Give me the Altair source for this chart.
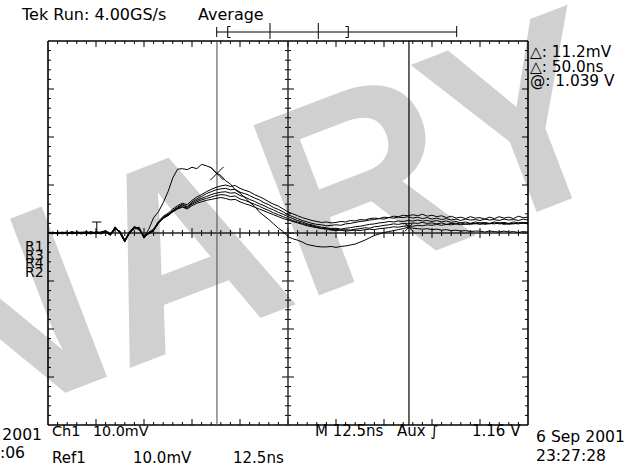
import altair as alt
import pandas as pd

SAMPLE_NS = 1.25          # sample spacing of the stored waveforms
NS_PER_DIV = 12.5
MV_PER_DIV = 10.0

trace_ch1 = [0.1, -0.2, 0.2, 0.0, -0.1, 0.2, -0.2, 0.1, 0.3, -0.1, 0.2, 0.0, 0.3, -0.4, 1.0, 0.2, -1.6, 0.2, 1.2, 0.8, -0.8,
             0.8, 3.2, 4.4, 6.3, 8.6, 11.5, 13.3, 13.4, 13.2, 13.7, 13.4, 14.3, 14.0, 13.6, 12.5, 12.0, 10.9, 10.2, 9.0, 8.3,
             7.4, 6.4, 5.6, 4.4, 3.6, 2.8, 1.9, 1.0, 0.3, -0.8, -1.2, -1.5, -1.9, -2.4, -2.6, -2.8, -2.9, -2.9, -2.8, -3.0,
             -2.8, -2.7, -2.5, -2.3, -1.9, -1.5, -1.0, -0.5, -0.2, 0.1, 0.3, 0.5, 0.7, 0.9, 1.2, 1.0, 0.9, 0.8, 0.9, 0.7,
             0.8, 0.6, 0.7, 0.5, 0.6, 0.4, 0.5, 0.3, 0.4, 0.4, 0.2, 0.4, 0.3, 0.2, 0.4, 0.2, 0.3, 0.1, 0.3, 0.2]
trace_ref1 = [0.0, 0.2, -0.1, 0.1, 0.2, -0.2, 0.1, -0.1, 0.2, 0.1, -0.1, 0.2, 0.4, -0.2, 1.2, 0.0, -1.8, 0.0, 1.0, 1.1, -1.0,
              0.1, 0.8, 2.4, 3.5, 4.1, 5.0, 5.7, 6.2, 5.9, 6.8, 7.5, 8.0, 8.6, 9.1, 9.5, 9.8, 10.0, 9.7, 9.9, 9.3,
              8.9, 8.6, 8.0, 7.6, 7.1, 6.5, 6.0, 5.6, 5.0, 4.4, 4.0, 3.6, 3.2, 2.9, 2.6, 2.4, 2.2, 2.3, 2.1, 2.2,
              2.4, 2.3, 2.6, 2.5, 2.8, 2.7, 3.0, 3.1, 3.0, 3.3, 3.2, 3.5, 3.4, 3.7, 3.6, 3.8, 3.6, 3.9, 3.5, 3.7,
              3.4, 3.6, 3.2, 3.5, 3.1, 3.3, 3.0, 3.4, 3.1, 3.2, 2.9, 3.3, 3.0, 3.4, 3.1, 3.3, 3.0, 3.5, 3.2, 3.3]
trace_ref2 = [-0.1, 0.1, 0.0, 0.2, -0.2, 0.0, 0.2, 0.0, -0.1, 0.3, 0.0, -0.1, 0.2, -0.5, 0.8, 0.4, -1.4, 0.3, 1.3, 0.6, -0.6,
              -0.2, 0.5, 2.1, 3.3, 3.8, 4.7, 5.4, 6.0, 5.5, 6.5, 7.1, 7.6, 8.2, 8.6, 9.0, 9.2, 9.3, 9.0, 9.1, 8.5,
              8.2, 7.8, 7.3, 6.9, 6.3, 5.9, 5.3, 4.9, 4.4, 3.8, 3.4, 3.0, 2.6, 2.3, 2.0, 1.8, 1.7, 1.5, 1.6, 1.7,
              1.6, 1.9, 2.0, 2.2, 2.4, 2.5, 2.7, 2.8, 3.0, 2.9, 3.2, 3.1, 3.3, 3.2, 3.4, 3.1, 3.3, 3.0, 3.2, 2.9,
              3.1, 2.8, 3.0, 2.7, 2.9, 2.6, 2.9, 2.7, 2.8, 2.6, 2.9, 2.7, 2.8, 2.6, 2.9, 2.7, 2.8, 2.6, 2.9, 2.7]
trace_ref3 = [0.2, -0.1, 0.1, -0.2, 0.1, 0.1, -0.1, 0.2, 0.0, -0.2, 0.3, 0.1, 0.1, -0.3, 1.1, -0.1, -1.9, 0.1, 0.9, 0.9, -1.1,
              0.2, 0.6, 2.0, 3.2, 3.9, 4.6, 5.2, 5.8, 5.4, 6.2, 6.8, 7.2, 7.6, 8.0, 8.3, 8.5, 8.6, 8.3, 8.4, 7.8,
              7.5, 7.0, 6.6, 6.1, 5.7, 5.2, 4.8, 4.3, 3.9, 3.4, 3.0, 2.6, 2.3, 1.9, 1.7, 1.4, 1.2, 1.1, 0.9, 1.0,
              0.8, 1.0, 1.1, 1.3, 1.4, 1.6, 1.8, 1.9, 2.1, 2.2, 2.4, 2.3, 2.5, 2.4, 2.6, 2.5, 2.7, 2.5, 2.6, 2.4,
              2.6, 2.3, 2.5, 2.2, 2.4, 2.1, 2.3, 2.0, 2.3, 2.1, 2.2, 2.0, 2.3, 2.1, 2.2, 2.0, 2.3, 2.1, 2.2, 2.1]
trace_ref4 = [0.0, 0.0, -0.2, 0.1, 0.0, 0.3, 0.0, -0.2, 0.1, 0.2, -0.2, 0.2, 0.5, -0.1, 0.9, 0.3, -1.5, -0.1, 1.1, 1.2, -0.9,
              0.0, 0.7, 2.3, 3.0, 3.7, 4.5, 5.1, 5.5, 5.2, 6.0, 6.5, 6.9, 7.2, 7.5, 7.8, 8.0, 7.9, 7.6, 7.7, 7.1,
              6.8, 6.4, 6.0, 5.6, 5.1, 4.7, 4.2, 3.8, 3.4, 3.0, 2.6, 2.3, 2.0, 1.7, 1.5, 1.2, 1.0, 0.9, 0.7, 0.8,
              0.6, 0.7, 0.6, 0.8, 0.9, 1.1, 1.0, 1.3, 1.4, 1.6, 1.7, 1.9, 1.8, 2.0, 1.9, 2.1, 2.0, 2.2, 2.0, 2.1,
              1.9, 2.1, 1.8, 2.0, 1.9, 2.1, 1.8, 2.0, 1.9, 2.1, 1.8, 2.0, 1.9, 2.1, 1.8, 2.0, 1.9, 2.1, 2.0, 2.1]
trace_ref5 = [0.1, -0.1, 0.1, 0.1, -0.1, -0.1, 0.2, 0.1, -0.2, 0.0, 0.1, -0.2, 0.2, -0.4, 1.3, 0.1, -1.7, 0.2, 1.4, 0.7, -0.7,
              -0.1, 0.5, 2.0, 3.1, 3.6, 4.4, 5.0, 5.4, 5.0, 5.7, 6.2, 6.5, 6.8, 7.0, 7.2, 7.4, 7.2, 6.9, 7.0, 6.5,
              6.1, 5.8, 5.4, 5.0, 4.6, 4.2, 3.8, 3.4, 3.0, 2.7, 2.4, 2.1, 1.8, 1.5, 1.3, 1.1, 0.9, 0.8, 0.6, 0.5,
              0.6, 0.4, 0.5, 0.6, 0.5, 0.7, 0.8, 0.7, 0.9, 1.0, 1.1, 1.3, 1.2, 1.4, 1.5, 1.4, 1.6, 1.5, 1.7, 1.6,
              1.8, 1.6, 1.8, 1.7, 1.9, 1.7, 1.9, 1.8, 2.0, 1.8, 2.0, 1.9, 2.1, 1.9, 2.0, 1.8, 2.0, 1.9, 2.1, 1.9]

series = {"Ch1": trace_ch1, "R1": trace_ref1, "R2": trace_ref2,
          "R3": trace_ref3, "R4": trace_ref4, "R5": trace_ref5}

cursor_times_ns = [44.0, 94.0]
cursor_levels_mv = [12.4, 1.2]
trigger_time_ns = 12.7

readout_lines = ["\u25b3: 11.2mV", "\u25b3: 50.0ns", "@: 1.039 V"]

# ---------------- layout ----------------
W, H = 480, 384
PAD = {"left": 48, "top": 41, "right": 98, "bottom": 46}
T0, T1 = 0.0, NS_PER_DIV * 10
V0, V1 = -MV_PER_DIV * 4, MV_PER_DIV * 4
PXT = W / (T1 - T0)
PXV = H / (V1 - V0)


def tx(px):
    return (px - PAD["left"]) / PXT


def vy(py):
    return V1 - (py - PAD["top"]) / PXV


xs = alt.Scale(domain=[T0, T1], nice=False, zero=False)
ys = alt.Scale(domain=[V0, V1], nice=False, zero=False)

# ---------------- traces ----------------
rows = []
for name, vals in series.items():
    for i, v in enumerate(vals):
        rows.append({"t": i * SAMPLE_NS, "v": v, "s": name})
traces = alt.Chart(pd.DataFrame(rows)).mark_line(strokeWidth=1, color="black").encode(
    x=alt.X("t:Q", scale=xs, axis=None),
    y=alt.Y("v:Q", scale=ys, axis=None),
    detail="s:N",
    order="t:Q",
)

# ---------------- graticule & cursors (rules) ----------------
R = []


def rule(t, t2, v, v2, w=1.0, c="black"):
    R.append({"t": t, "t2": t2, "v": v, "v2": v2, "w": w, "c": c})


dt_minor = NS_PER_DIV / 5
dv_minor = MV_PER_DIV / 5
tcen = (T0 + T1) / 2
for k in range(1, 50):
    t = T0 + k * dt_minor
    major = (k % 5 == 0)
    ln = (6 if major else 3)
    rule(t, t, V1, V1 - ln / PXV)
    rule(t, t, V0, V0 + ln / PXV)
    lc = (5 if major else 3)
    rule(t, t, -lc / PXV, lc / PXV)
for m in range(1, 40):
    v = V0 + m * dv_minor
    major = (m % 5 == 0)
    ln = (6 if major else 3)
    rule(T0, T0 + ln / PXT, v, v)
    rule(T1, T1 - ln / PXT, v, v)
    rule(tcen - ln / PXT, tcen + ln / PXT, v, v)
rule(T0, T1, V1, V1, 1.6)
rule(T0, T1, V0, V0, 1.6)
rule(T0, T0, V0, V1, 1.6)
rule(T1, T1, V0, V1, 1.6)
rule(T0, T1, 0, 0, 1.4, "#222222")
rule(tcen, tcen, V0, V1, 1.4, "#222222")
rule(cursor_times_ns[0], cursor_times_ns[0], V0, V1, 1.1, "#555555")
rule(cursor_times_ns[1], cursor_times_ns[1], V0, V1, 1.2, "black")
rule(trigger_time_ns - 1.2, trigger_time_ns + 1.2, vy(222), vy(222), 1.0)
rule(trigger_time_ns, trigger_time_ns, vy(222), vy(232), 1.0)
rule(tx(216.7), tx(456.7), vy(32), vy(32), 1.0)
for px, a, b in [(216.7, 27, 37), (270, 23, 39), (318.3, 23, 39), (456.7, 26, 37)]:
    rule(tx(px), tx(px), vy(a), vy(b), 1.0)
rule(tx(227.7), tx(227.7), vy(26.5), vy(37.5), 1.0)
rule(tx(227.7), tx(230.5), vy(26.5), vy(26.5), 1.0)
rule(tx(227.7), tx(230.5), vy(37.5), vy(37.5), 1.0)
rule(tx(348.3), tx(348.3), vy(26.5), vy(37.5), 1.0)
rule(tx(345.5), tx(348.3), vy(26.5), vy(26.5), 1.0)
rule(tx(345.5), tx(348.3), vy(37.5), vy(37.5), 1.0)

rules = alt.Chart(pd.DataFrame(R)).mark_rule().encode(
    x=alt.X("t:Q", scale=xs, axis=None), x2="t2:Q",
    y=alt.Y("v:Q", scale=ys, axis=None), y2="v2:Q",
    strokeWidth=alt.StrokeWidth("w:Q", scale=None, legend=None),
    color=alt.Color("c:N", scale=None, legend=None),
)

# ---------------- cursor X markers ----------------
xm = alt.Chart(pd.DataFrame({"t": cursor_times_ns, "v": cursor_levels_mv, "sz": [180, 64]})).mark_point(
    shape="M-1,-1L1,1M-1,1L1,-1", filled=False, stroke="black", strokeWidth=1, opacity=1
).encode(
    x=alt.X("t:Q", scale=xs, axis=None),
    y=alt.Y("v:Q", scale=ys, axis=None),
    size=alt.Size("sz:Q", scale=None, legend=None),
)

# ---------------- watermark ----------------
wm = alt.Chart(pd.DataFrame({"t": [tx(-55)], "v": [vy(439)], "txt": ["NARY"]})).mark_text(
    font="Liberation Sans", fontWeight="bold", fontSize=265, angle=339,
    align="left", baseline="alphabetic", color="#d0d0d0"
).encode(
    x=alt.X("t:Q", scale=xs, axis=None),
    y=alt.Y("v:Q", scale=ys, axis=None),
    text="txt:N",
)

# ---------------- text ----------------
T = []
TR = []


def label(px, py, s, size=15, right=False):
    (TR if right else T).append({"t": tx(px), "v": vy(py), "txt": s, "fs": size})


label(22, 19.5, "Tek Run: 4.00GS/s", 16)
label(198, 19.5, "Average", 16)
for j, s in enumerate(readout_lines):
    label(530, 57 + 14.7 * j, s, 15.3)
label(52, 436, "Ch1", 14.5)
label(93, 436, "10.0mV", 14.3)
label(315, 436, "M 12.5ns", 15)
label(397, 436, "Aux \u222b", 15)
label(472, 436, "1.16 V", 15)
label(52, 463, "Ref1", 15)
label(133, 463, "10.0mV", 15)
label(233, 463, "12.5ns", 15)
label(536, 442, "6 Sep 2001", 15.6)
label(536, 461, "23:27:28", 15.6)
label(42, 440, "6 Sep 2001", 15.6, right=True)
label(25, 458, "23:27:06", 15.6, right=True)
label(25, 251, "R1", 14)
label(25, 260, "R3", 14)
label(25, 268, "R4", 14)
label(25, 277, "R2", 14)

texts = alt.Chart(pd.DataFrame(T)).mark_text(
    font="DejaVu Sans", align="left", baseline="alphabetic", color="black"
).encode(
    x=alt.X("t:Q", scale=xs, axis=None),
    y=alt.Y("v:Q", scale=ys, axis=None),
    text="txt:N",
    size=alt.Size("fs:Q", scale=None, legend=None),
)
texts_r = alt.Chart(pd.DataFrame(TR)).mark_text(
    font="DejaVu Sans", align="right", baseline="alphabetic", color="black"
).encode(
    x=alt.X("t:Q", scale=xs, axis=None),
    y=alt.Y("v:Q", scale=ys, axis=None),
    text="txt:N",
    size=alt.Size("fs:Q", scale=None, legend=None),
)

chart = alt.layer(wm, rules, traces, xm, texts, texts_r).properties(
    width=W, height=H, padding=PAD,
    autosize=alt.AutoSizeParams(type="none"),
    background="white",
).configure_view(stroke=None)

chart.save("out.html", embed_options={"renderer": "svg", "actions": False})
